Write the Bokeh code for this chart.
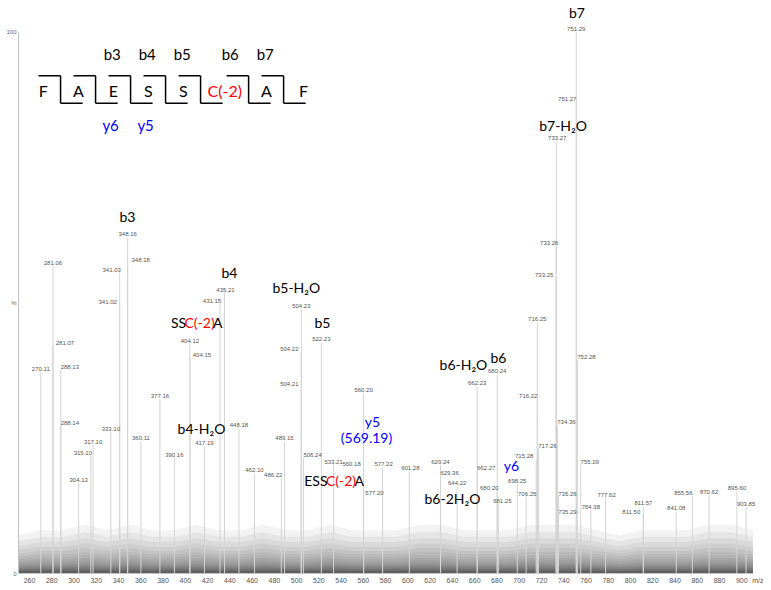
from bokeh.plotting import figure
from bokeh.models import ColumnDataSource, LabelSet, Label, FixedTicker, Range1d
from bokeh.core.properties import value
from bokeh.embed import file_html
from bokeh.resources import INLINE

# ---------------- data ----------------
mz = [270.11, 281.06, 281.07, 288.13, 288.14, 304.13, 315.10, 317.10, 333.10,
      341.02, 341.03, 348.16, 348.18, 360.11, 377.16, 390.16, 404.12, 404.15,
      417.19, 431.15, 435.21, 448.18, 462.10, 486.22, 489.15, 504.21, 504.22,
      504.23, 506.24, 522.23, 533.21, 560.18, 560.20, 577.20, 577.22, 601.28,
      629.24, 629.36, 644.22, 662.23, 662.27, 680.20, 680.24, 681.25, 698.25,
      706.25, 715.28, 716.22, 716.25, 717.26, 733.25, 733.26, 733.27, 734.36,
      735.26, 735.29, 751.27, 751.29, 752.28, 755.29, 764.38, 777.62, 811.50,
      811.57, 841.08, 855.56, 870.62, 895.60, 903.85]
intensity = [37.3, 56.9, 42.1, 37.7, 27.2, 16.8, 21.8, 23.8, 26.2,
             49.7, 55.6, 62.1, 57.3, 24.4, 32.2, 21.4, 42.5, 39.9,
             23.5, 49.9, 51.8, 26.8, 18.5, 17.6, 24.4, 34.4, 40.9,
             48.8, 21.4, 42.7, 20.1, 19.6, 33.3, 14.4, 19.6, 19.0,
             20.1, 18.1, 16.1, 34.6, 18.9, 15.3, 36.8, 12.9, 16.6,
             14.2, 21.1, 32.3, 46.4, 23.1, 54.7, 60.6, 79.9, 27.4,
             14.2, 10.9, 87.2, 100.0, 39.4, 20.1, 11.8, 14.0, 10.9,
             12.4, 11.5, 14.4, 14.6, 15.2, 12.2]

x_ticks = list(range(260, 901, 20))
x_unit_tick = 914.5          # where the "m/z" unit label sits on the axis
y_ticks = [0, 50, 100]
y_tick_labels = ["0", "%", "100"]

# noise-floor envelope (% of base peak) read every 20 m/z
noise_mz = [250, 270, 290, 310, 330, 350, 370, 390, 410, 430, 450, 470, 490,
            510, 530, 550, 570, 590, 610, 630, 650, 670, 690, 710, 730, 750,
            770, 790, 810, 830, 850, 870, 890, 910]
noise_env = [7, 8, 8, 9, 8, 9, 8, 8, 9, 8, 8, 9, 8,
             8, 9, 8, 8, 8, 9, 9, 8, 8, 8, 9, 9, 9,
             8, 7, 8, 8, 8, 9, 9, 8]

residues = ["F", "A", "E", "S", "S", "C(-2)", "A", "F"]
b_ions = [3, 4, 5, 6, 7]
y_ions = [6, 5]

# ion annotations: (text parts, m/z anchor, % height)
annotations = [
    ([("b7", "black")], 751.9, 103.7),
    ([("b7-H₂O", "black")], 739.4, 82.8),
    ([("b3", "black")], 348.0, 66.0),
    ([("b4", "black")], 439.7, 55.6),
    ([("SS", "black"), ("C(-2)", "red"), ("A", "black")], 412.8, 46.4),
    ([("b5-H₂O", "black")], 499.7, 52.9),
    ([("b5", "black")], 523.2, 46.4),
    ([("b6-H₂O", "black")], 649.9, 38.6),
    ([("b6", "black")], 681.4, 39.9),
    ([("b4-H₂O", "black")], 414.5, 26.8),
    ([("y5", "blue")], 568.2, 28.1),
    ([("(569.19)", "blue")], 562.8, 25.1),
    ([("y6", "blue")], 693.0, 20.0),
    ([("ESS", "black"), ("C(-2)", "red"), ("A", "black")], 539.9, 17.2),
    ([("b6-2H₂O", "black")], 640.0, 13.9),
]

# ---------------- layout (label nudges, px) ----------------
label_dx = [0, 0, 12, 9, 9, 0, -8, 0, 0,
            -12, -8, 0, 13, 0, 0, 0, 0, 12,
            0, -8, 1, 0, 0, -8, 0, -12, -12,
            0, 9, 0, 0, -12, 0, -8, 1, 1,
            0, 9, 0, 0, 9, -8, 0, 4, 0,
            1, -12, -9, 0, 9, -12, -7, 1, 9,
            9, 9, -9, 0, 9, 9, 0, 1, -12,
            0, 0, -9, 0, 0, 0]

ANN_FONT = "Lato"
NUM_FONT = "Liberation Sans"
X0, X1 = 250.1, 917.7

p = figure(width=763, height=586, output_backend="svg", toolbar_location=None,
           x_range=Range1d(X0, X1), y_range=Range1d(0, 105.9),
           min_border_left=18, min_border_right=2, min_border_top=0,
           min_border_bottom=0)
p.outline_line_color = None
p.grid.visible = False
p.background_fill_color = "white"

# noise floor as a soft gradient band
n_layers = 20
for i in range(n_layers):
    frac = 0.85 ** i
    p.varea(x=noise_mz, y1=[0] * len(noise_mz), y2=[v * frac for v in noise_env],
            fill_color="#202020", fill_alpha=0.06)

# peaks
p.segment(x0=mz, y0=[0] * len(mz), x1=mz, y1=intensity,
          line_color="#d4d4d4", line_width=1)

src = ColumnDataSource(dict(mz=mz, inten=intensity, dx=label_dx,
                            txt=[f"{m:.2f}" for m in mz]))
p.add_layout(LabelSet(x="mz", y="inten", text="txt", source=src, x_offset="dx",
                      y_offset=1, text_align="center", text_baseline="bottom",
                      text_font=value(NUM_FONT), text_font_size="6px",
                      text_color="#555555"))

# annotations
for parts, ax, ay in annotations:
    if len(parts) == 1:
        t, c = parts[0]
        p.add_layout(Label(x=ax, y=ay, text=t, text_color=c, text_font=ANN_FONT,
                           text_font_size="14px", text_align="center",
                           text_baseline="middle"))
    else:
        (t0, c0), (t1, c1), (t2, c2) = parts
        half = 13.5
        p.add_layout(Label(x=ax, y=ay, text=t0, text_color=c0, text_font=ANN_FONT,
                           text_font_size="14px", text_align="right",
                           text_baseline="middle", x_offset=-half))
        p.add_layout(Label(x=ax, y=ay, text=t1, text_color=c1, text_font=ANN_FONT,
                           text_font_size="14px", text_align="center",
                           text_baseline="middle"))
        p.add_layout(Label(x=ax, y=ay, text=t2, text_color=c2, text_font=ANN_FONT,
                           text_font_size="14px", text_align="left",
                           text_baseline="middle", x_offset=half))

# peptide fragment map
start, step, extra, seg = 287.9, 31.45, 11.7, 19.8
y_top, y_bot, y_mid = 92.0, 86.9, 89.3
seps = [start]
for k in range(2, len(residues)):
    wide = len(residues[k - 1]) > 1
    seps.append(seps[-1] + step + (extra if wide else 0))
xs0, ys0, xs1, ys1 = [], [], [], []
for s in seps:
    xs0 += [s - seg, s, s]
    ys0 += [y_top, y_top, y_bot]
    xs1 += [s, s, s + seg]
    ys1 += [y_top, y_bot, y_bot]
p.segment(x0=xs0, y0=ys0, x1=xs1, y1=ys1, line_color="black", line_width=1.5)

for i, r in enumerate(residues):
    if i < len(seps):
        wide = len(r) > 1
        cx = seps[i] - 15.5 - (extra / 2 if wide else 0)
    else:
        cx = seps[-1] + 18.0
    p.add_layout(Label(x=cx, y=y_mid, text=r, text_color="red" if len(r) > 1 else "black",
                       text_font=ANN_FONT, text_font_size="16px", text_align="center",
                       text_baseline="middle"))
for b in b_ions:
    p.add_layout(Label(x=seps[b - 1] - 16.5, y=96.1, text=f"b{b}", text_color="black",
                       text_font=ANN_FONT, text_font_size="15px", text_align="center",
                       text_baseline="middle"))
for yv in y_ions:
    k = len(residues) - yv
    p.add_layout(Label(x=seps[k - 1] + 13.5, y=82.9, text=f"y{yv}", text_color="blue",
                       text_font=ANN_FONT, text_font_size="15px", text_align="center",
                       text_baseline="middle"))

# axes
p.xaxis.ticker = FixedTicker(ticks=x_ticks + [x_unit_tick])
p.xaxis.major_label_overrides = {x_unit_tick: "m/z"}
p.xaxis.axis_line_color = None
p.xaxis.major_tick_line_color = None
p.xaxis.minor_tick_line_color = None
p.xaxis.major_tick_out = 0
p.xaxis.major_tick_in = 0
p.xaxis.major_label_text_font = NUM_FONT
p.xaxis.major_label_text_font_size = "7px"
p.xaxis.major_label_text_color = "#555555"
p.xaxis.major_label_standoff = 3

p.yaxis.ticker = FixedTicker(ticks=y_ticks)
p.yaxis.major_label_overrides = dict(zip(y_ticks, y_tick_labels))
p.yaxis.bounds = (0, 100)
p.yaxis.axis_line_color = "#c0c0c0"
p.yaxis.major_tick_line_color = None
p.yaxis.minor_tick_line_color = None
p.yaxis.major_tick_out = 0
p.yaxis.major_tick_in = 0
p.yaxis.major_label_text_font = NUM_FONT
p.yaxis.major_label_text_font_size = "6px"
p.yaxis.major_label_text_color = "#666666"
p.yaxis.major_label_standoff = 2

open("out.html", "w").write(file_html(p, INLINE))
